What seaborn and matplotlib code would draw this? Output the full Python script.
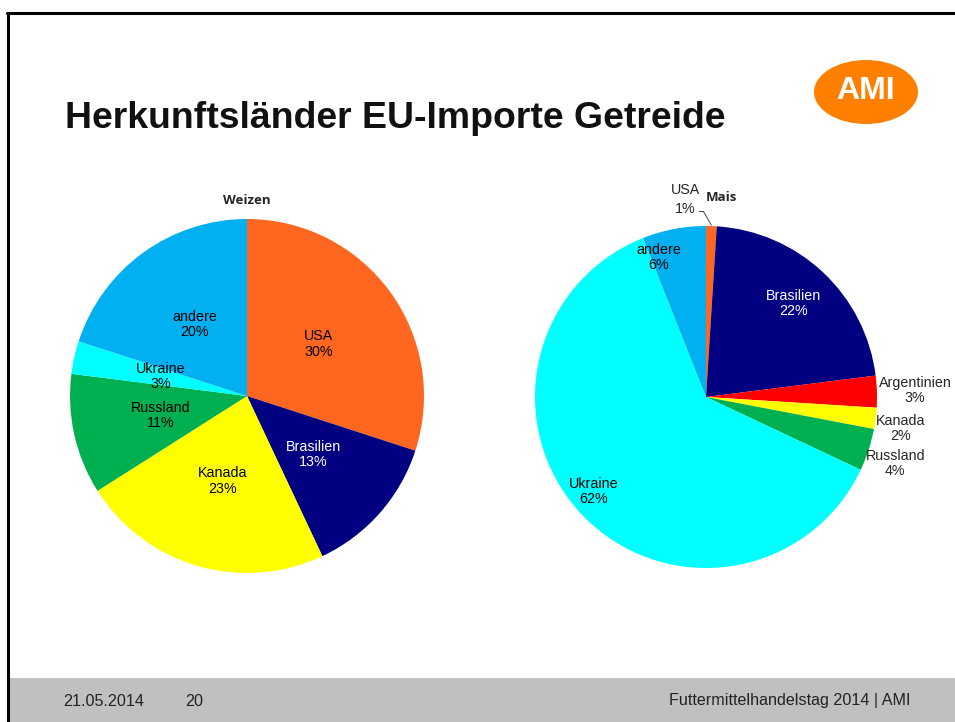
import numpy as np
import matplotlib
matplotlib.use("Agg")
import matplotlib.pyplot as plt
from matplotlib.patches import Ellipse, Rectangle
import seaborn as sns

sns.set_theme(style="white")
plt.rcParams['font.family'] = ['Liberation Sans', 'DejaVu Sans']

# ---- data ----
weizen_labels = ["USA", "Brasilien", "Kanada", "Russland", "Ukraine", "andere"]
weizen_values = [30, 13, 23, 11, 3, 20]
mais_labels = ["USA", "Brasilien", "Argentinien", "Kanada", "Russland", "Ukraine", "andere"]
mais_values = [1, 22, 3, 2, 4, 62, 6]

country_colors = {
    "USA": "#FF6620", "Brasilien": "#000080", "Argentinien": "#FF0000",
    "Kanada": "#FFFF00", "Russland": "#00B050", "Ukraine": "#00FFFF",
    "andere": "#00B0F0",
}
pal = sns.color_palette([country_colors[k] for k in country_colors])

W, H = 955, 722
fig = plt.figure(figsize=(W / 100, H / 100), dpi=100)
fig.patch.set_facecolor("white")

def fx(x): return x / W
def fy(y): return 1 - y / H

# slide frame
fig.add_artist(plt.Line2D([fx(8), fx(8)], [fy(13), 0], color="black", lw=2.2, transform=fig.transFigure))
fig.add_artist(plt.Line2D([fx(7), 1], [fy(13), fy(13)], color="black", lw=2.2, transform=fig.transFigure))
# footer band
fig.add_artist(Rectangle((fx(9), 0), 1 - fx(9), fy(678), transform=fig.transFigure,
                         facecolor="#C0C0C0", edgecolor="none"))
foot_font = ['Liberation Sans Narrow', 'Liberation Sans', 'DejaVu Sans']
fig.text(fx(63), fy(701), "21.05.2014", fontsize=11.6, va="center", ha="left", family=foot_font, color="#222222")
fig.text(fx(185), fy(701), "20", fontsize=11.6, va="center", ha="left", family=foot_font, color="#222222")
fig.text(fx(910), fy(701), "Futtermittelhandelstag 2014 | AMI", fontsize=11.6, va="center", ha="right",
         family=foot_font, color="#222222")

# title
fig.text(fx(65), fy(118), "Herkunftsländer EU-Importe Getreide", fontsize=26.9, fontweight="bold",
         va="center", ha="left", color="#111111")

# AMI logo
fig.add_artist(Ellipse((fx(866), fy(92)), 104 / W, 64 / H, transform=fig.transFigure,
                       facecolor="#FF8000", edgecolor="none"))
fig.text(fx(866), fy(91), "AMI", fontsize=23, fontweight="bold", color="white", ha="center", va="center")

def pie_axes(cx, cy, r):
    ax = fig.add_axes([fx(cx - r), fy(cy + r), 2 * r / W, 2 * r / H])
    ax.set_xlim(-1, 1); ax.set_ylim(-1, 1); ax.set_aspect("equal"); ax.axis("off")
    return ax

def mid_angles(values, start=90):
    total = sum(values)
    ang = []
    a = start
    for v in values:
        span = 360 * v / total
        ang.append(a - span / 2)
        a -= span
    return ang

LFS = 10.3

# ---- Weizen ----
ax1 = pie_axes(247, 396, 177)
ax1.pie(weizen_values, colors=[country_colors[k] for k in weizen_labels],
        startangle=90, counterclock=False, radius=1, wedgeprops=dict(linewidth=0))
ax1.set_xlim(-1, 1); ax1.set_ylim(-1, 1)
for lab, v, a in zip(weizen_labels, weizen_values, mid_angles(weizen_values)):
    t = np.deg2rad(a)
    col = "white" if lab == "Brasilien" else "black"
    ax1.text(0.5 * np.cos(t), 0.5 * np.sin(t), f"{lab}\n{v}%", ha="center", va="center",
             fontsize=LFS, color=col, linespacing=1.1)
ax1.text(0, 1.105, "Weizen", ha="center", va="center", fontsize=9.5, fontweight="bold",
         family=['Open Sans', 'DejaVu Sans'])

# ---- Mais ----
ax2 = pie_axes(706, 397, 171)
ax2.pie(mais_values, colors=[country_colors[k] for k in mais_labels],
        startangle=90, counterclock=False, radius=1, wedgeprops=dict(linewidth=0))
ax2.set_xlim(-1, 1); ax2.set_ylim(-1, 1)
inside_r = {"Brasilien": 0.75, "Ukraine": 0.86, "andere": 0.86}
inside_nudge = {"Brasilien": 0, "Ukraine": -3, "andere": 8}
outside_nudge = {"Argentinien": 0.5, "Kanada": -3.4, "Russland": -4.6}
for lab, v, a in zip(mais_labels, mais_values, mid_angles(mais_values)):
    txt = f"{lab}\n{v}%"
    if lab in inside_r:
        t = np.deg2rad(a + inside_nudge[lab])
        col = "white" if lab == "Brasilien" else "black"
        ax2.text(inside_r[lab] * np.cos(t), inside_r[lab] * np.sin(t), txt, ha="center", va="center",
                 fontsize=LFS, color=col, linespacing=1.1)
    elif lab in outside_nudge:
        t = np.deg2rad(a + outside_nudge[lab])
        ax2.text(1.01 * np.cos(t), 1.01 * np.sin(t), txt, ha="left", va="center",
                 fontsize=LFS, multialignment="center", linespacing=1.1, clip_on=False)
    else:  # USA with leader line
        t = np.deg2rad(a)
        ax2.text(-0.12, 1.155, txt, ha="center", va="center", fontsize=LFS,
                 multialignment="center", linespacing=1.45, clip_on=False)
        ax2.plot([-0.04, -0.015, np.cos(t)], [1.085, 1.085, 1.0 + 0.005],
                 color="#444444", lw=0.7, clip_on=False)
ax2.text(0.09, 1.165, "Mais", ha="center", va="center", fontsize=9.5, fontweight="bold",
         family=['Open Sans', 'DejaVu Sans'])

fig.savefig("out.png", dpi=100)
